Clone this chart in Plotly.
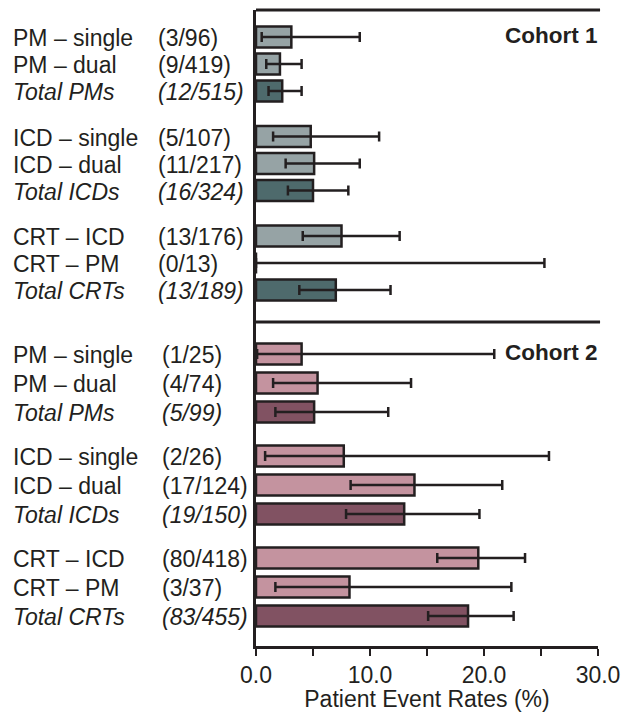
import plotly.graph_objects as go

# ---- data ----
names = ["PM – single", "PM – dual", "Total PMs",
         "ICD – single", "ICD – dual", "Total ICDs",
         "CRT – ICD", "CRT – PM", "Total CRTs"]
c1_counts = ["(3/96)", "(9/419)", "(12/515)", "(5/107)", "(11/217)", "(16/324)",
             "(13/176)", "(0/13)", "(13/189)"]
c2_counts = ["(1/25)", "(4/74)", "(5/99)", "(2/26)", "(17/124)", "(19/150)",
             "(80/418)", "(3/37)", "(83/455)"]
c1_rate = [3.1, 2.1, 2.3, 4.8, 5.1, 5.0, 7.5, 0.0, 7.0]
c1_lo = [0.5, 0.9, 1.1, 1.5, 2.6, 2.8, 4.1, 0.0, 3.8]
c1_hi = [9.1, 4.0, 4.0, 10.8, 9.1, 8.1, 12.6, 25.3, 11.8]
c2_rate = [4.0, 5.4, 5.1, 7.7, 13.9, 13.0, 19.5, 8.2, 18.6]
c2_lo = [0.1, 1.5, 1.7, 0.8, 8.3, 7.9, 15.9, 1.7, 15.1]
c2_hi = [20.9, 13.6, 11.6, 25.7, 21.6, 19.6, 23.6, 22.4, 22.6]
cohort_names = ["Cohort 1", "Cohort 2"]
x_ticks = [0, 5, 10, 15, 20, 25, 30]
x_ticktext = ["0.0", "", "10.0", "", "20.0", "", "30.0"]

# ---- layout constants ----
W, H = 622, 712
ML, MR, MT, MB = 256, 24, 10, 66
PW = W - ML - MR
FONT = "Liberation Sans, Arial, sans-serif"
INK = "#231f20"

cohorts = [
    dict(rate=c1_rate, lo=c1_lo, hi=c1_hi, counts=c1_counts, base=27, row=27, group=99.5,
         light="#96a3a5", dark="#4e6a6c", count_x=156),
    dict(rate=c2_rate, lo=c2_lo, hi=c2_hi, counts=c2_counts, base=344, row=29, group=102,
         light="#c4939f", dark="#815262", count_x=160),
]

fig = go.Figure()
annotations = []
for ci, c in enumerate(cohorts):
    ys = [c["base"] + (i // 3) * c["group"] + (i % 3) * c["row"] for i in range(len(names))]
    colors = [c["dark"] if n.startswith("Total") else c["light"] for n in names]
    fig.add_trace(go.Bar(
        x=c["rate"], y=ys, orientation="h", width=21,
        marker=dict(color=colors, line=dict(color=INK, width=2.5)),
        error_x=dict(type="data", symmetric=False,
                     array=[h - r for h, r in zip(c["hi"], c["rate"])],
                     arrayminus=[r - l for r, l in zip(c["rate"], c["lo"])],
                     color=INK, thickness=2.5, width=5),
        showlegend=False, hoverinfo="skip",
    ))
    for n, cnt, y in zip(names, c["counts"], ys):
        style = "italic" if n.startswith("Total") else "normal"
        annotations.append(dict(x=(11 - ML) / PW, y=y, xref="paper", yref="y",
                                text=n, showarrow=False, xanchor="left", yanchor="middle",
                                yshift=-1,
                                font=dict(family=FONT, size=23, color=INK, style=style)))
        annotations.append(dict(x=(c["count_x"] - ML) / PW, y=y, xref="paper", yref="y",
                                text=cnt, showarrow=False, xanchor="left", yanchor="middle",
                                yshift=-1,
                                font=dict(family=FONT, size=23, color=INK, style=style)))
    annotations.append(dict(x=1.0, y=c["base"] - 2, xref="paper", yref="y",
                            text="<b>" + cohort_names[ci] + "</b>", showarrow=False,
                            xanchor="right", yanchor="middle", xshift=2,
                            font=dict(family=FONT, size=22.5, color=INK)))

shapes = [
    dict(type="line", xref="paper", yref="paper", x0=0, x1=1.006, y0=1, y1=1,
         line=dict(color=INK, width=3)),
    dict(type="line", xref="paper", yref="y", x0=0, x1=1.006, y0=312, y1=312,
         line=dict(color=INK, width=3)),
]

fig.update_layout(
    width=W, height=H,
    margin=dict(l=ML, r=MR, t=MT, b=MB, pad=0, autoexpand=False),
    paper_bgcolor="white", plot_bgcolor="white",
    barmode="overlay",
    annotations=annotations, shapes=shapes,
    font=dict(family=FONT, color=INK),
    xaxis=dict(range=[0, 30], tickvals=x_ticks, ticktext=x_ticktext, automargin=False,
               ticks="outside", ticklen=7, tickwidth=2, tickcolor=INK,
               showline=True, linewidth=2.5, linecolor=INK, showgrid=False,
               zeroline=False, tickfont=dict(size=23, family=FONT, color=INK),
               title=dict(text="Patient Event Rates (%)", standoff=4,
                          font=dict(size=23, family=FONT, color=INK))),
    yaxis=dict(range=[H - MT - MB, 0], showline=True, linewidth=2.5, linecolor=INK,
               automargin=False,
               showticklabels=False, ticks="", showgrid=False, zeroline=False),
)

fig.write_html("out.html")
